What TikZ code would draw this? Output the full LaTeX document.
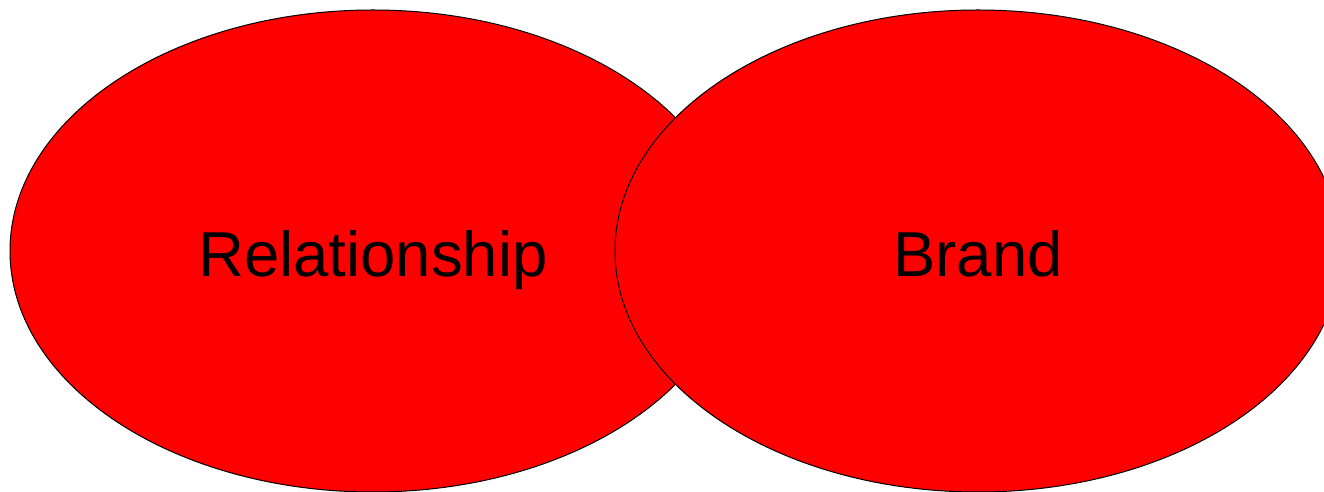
\documentclass[tikz,border=0pt]{standalone}
\usepackage{fontspec}
\setmainfont{Liberation Sans}
\usetikzlibrary{shapes.geometric}
\begin{document}
\begin{tikzpicture}[x=1pt,y=1pt,
  blob/.style={ellipse, draw=black, line width=1pt, fill=red, minimum width=726pt, minimum height=482pt, inner sep=0pt, text height=52pt, text depth=0pt, font=\fontsize{63.5}{70}\selectfont}]
\useasboundingbox (0,0) rectangle (1324,492);
\clip (0,0) rectangle (1324,492);
\fill[white] (0,0) rectangle (1324,492);
\node[blob] (rel) at (373,241) {Relationship};
\node[blob] (brand) at (978,241) {Brand};
\end{tikzpicture}
\end{document}
